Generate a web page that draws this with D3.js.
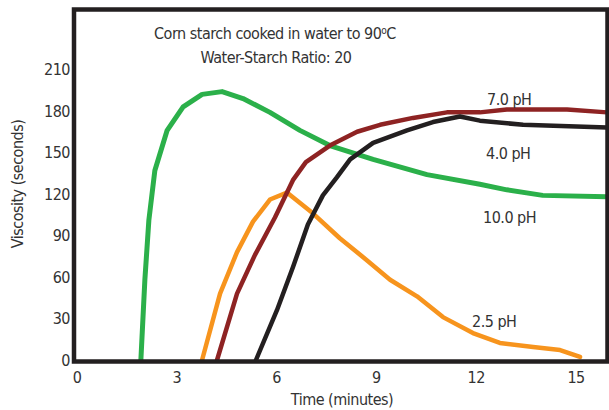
<!DOCTYPE html>
<html lang="en">
<head>
    <meta charset="UTF-8">
    <title>Corn starch viscosity</title>
    <script src="https://d3js.org/d3.v7.min.js"></script>
    <style>
        body { margin: 0; background: #fff; }
        text {
            font-family: "Liberation Sans Narrow", "DejaVu Sans Condensed", "Roboto Condensed", Arial, sans-serif;
            font-size: 16px;
            letter-spacing: -0.5px;
            fill: #333;
        }
        .curve { fill: none; stroke-linejoin: round; stroke-linecap: round; }
    </style>
</head>
<body>
    <svg id="chart" width="609" height="410"></svg>
    <script>
        // time (minutes) / viscosity (seconds)
        const ph10Time = [1.92, 2.04, 2.16, 2.34, 2.71, 3.19, 3.76, 4.36, 4.99, 5.80, 6.70, 7.60, 8.90, 10.52, 12.11, 12.92, 14.0, 15.93];
        const ph10Visc = [0, 58, 101, 137, 166, 183, 192, 194, 189, 179, 166, 155, 145, 134, 127, 123, 119, 118];

        const ph7Time = [4.21, 4.81, 5.35, 5.95, 6.49, 6.88, 7.60, 8.42, 9.11, 10.10, 11.12, 12.11, 12.92, 14.73, 15.93];
        const ph7Visc = [0, 48, 76, 103, 130, 143, 155, 165, 170, 175, 179, 179, 181, 181, 179];

        const ph4Time = [5.38, 6.01, 6.49, 6.94, 7.39, 7.81, 8.21, 8.90, 9.92, 10.70, 11.51, 12.11, 13.41, 15.93];
        const ph4Visc = [0, 36, 67, 98, 119, 132, 145, 157, 166, 172, 176, 173, 170, 168];

        const ph25Time = [3.76, 4.30, 4.81, 5.29, 5.80, 6.31, 7.09, 7.90, 8.72, 9.41, 10.22, 11.0, 11.9, 12.71, 13.71, 14.52, 15.12];
        const ph25Visc = [0, 48, 78, 100, 116, 121, 106, 88, 72, 58, 46, 31, 19.5, 12.3, 9.4, 7.2, 2.2];

        const xTicks = [0, 3, 6, 9, 12, 15];
        const yTicks = [0, 30, 60, 90, 120, 150, 180, 210];

        const series = [
            { name: "10.0 pH", t: ph10Time, v: ph10Visc, color: "#2bb04a", w: 5 },
            { name: "2.5 pH", t: ph25Time, v: ph25Visc, color: "#f7941d", w: 4.5 },
            { name: "7.0 pH", t: ph7Time, v: ph7Visc, color: "#8e2323", w: 4.5 },
            { name: "4.0 pH", t: ph4Time, v: ph4Visc, color: "#231f20", w: 4.5 }
        ];

        const svg = d3.select("#chart");

        const x = d3.scaleLinear().domain([0, 16]).range([77, 609.3]);
        const y = d3.scaleLinear().domain([0, 253]).range([360, 10]);

        const line = d3.line()
            .x(d => x(d[0]))
            .y(d => y(d[1]));

        series.forEach(s => {
            svg.append("path")
                .attr("class", "curve")
                .attr("d", line(d3.zip(s.t, s.v)))
                .attr("stroke", s.color)
                .attr("stroke-width", s.w);
        });

        // frame
        svg.append("rect")
            .attr("x", 74)
            .attr("y", 9.5)
            .attr("width", 533.5)
            .attr("height", 352)
            .attr("fill", "none")
            .attr("stroke", "#231f20")
            .attr("stroke-width", 4.5);

        // tick labels
        svg.append("g").selectAll("text")
            .data(xTicks)
            .join("text")
            .attr("x", d => x(d))
            .attr("y", 383)
            .attr("text-anchor", "middle")
            .text(d => d);

        svg.append("g").selectAll("text")
            .data(yTicks)
            .join("text")
            .attr("x", 70)
            .attr("y", d => y(d) + 6)
            .attr("text-anchor", "end")
            .text(d => d);

        // axis titles
        svg.append("text")
            .attr("x", 342)
            .attr("y", 405)
            .attr("text-anchor", "middle")
            .text("Time (minutes)");

        svg.append("text")
            .attr("transform", "translate(23,184) rotate(-90)")
            .attr("text-anchor", "middle")
            .text("Viscosity (seconds)");

        // title
        const t1 = svg.append("text")
            .attr("x", 275)
            .attr("y", 39)
            .attr("text-anchor", "middle");
        t1.append("tspan").text("Corn starch cooked in water to 90");
        t1.append("tspan").attr("dy", -5).style("font-size", "10px").text("o");
        t1.append("tspan").attr("dy", 5).text("C");

        svg.append("text")
            .attr("x", 276)
            .attr("y", 63)
            .attr("text-anchor", "middle")
            .text("Water-Starch Ratio: 20");

        // series labels
        const labelPos = { "7.0 pH": [487, 105], "4.0 pH": [486, 159], "10.0 pH": [483, 223], "2.5 pH": [472, 327] };
        series.forEach(s => {
            svg.append("text")
                .attr("x", labelPos[s.name][0])
                .attr("y", labelPos[s.name][1])
                .text(s.name);
        });
    </script>
</body>
</html>
